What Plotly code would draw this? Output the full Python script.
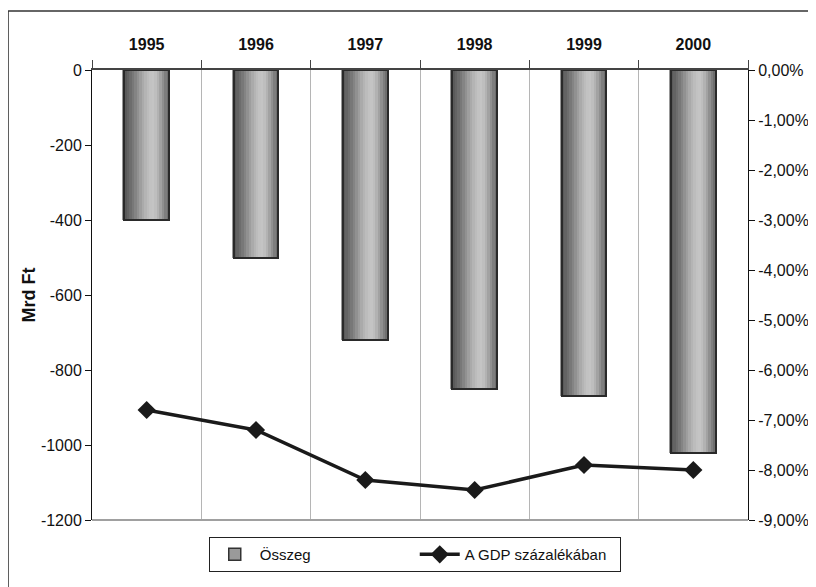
import plotly.graph_objects as go

years = ["1995", "1996", "1997", "1998", "1999", "2000"]
osszeg = [-400, -500, -720, -850, -870, -1020]
gdp_pct = [-0.068, -0.072, -0.082, -0.084, -0.079, -0.080]
left_ticks = [0, -200, -400, -600, -800, -1000, -1200]
left_labels = ["0", "-200", "-400", "-600", "-800", "-1000", "-1200"]
right_ticks = [0, -0.01, -0.02, -0.03, -0.04, -0.05, -0.06, -0.07, -0.08, -0.09]
right_labels = ["0,00%", "-1,00%", "-2,00%", "-3,00%", "-4,00%", "-5,00%",
                "-6,00%", "-7,00%", "-8,00%", "-9,00%"]

FONT = "Liberation Sans Narrow, Arial Narrow, Liberation Sans, Arial, sans-serif"
BAR_W = 0.41
grad = ["#5a5a5a", "#636363", "#6d6d6d", "#787878", "#848484", "#919191",
        "#9e9e9e", "#aaaaaa", "#b4b4b4", "#bcbcbc", "#c2c2c2", "#c4c4c4",
        "#bebebe", "#b2b2b2", "#a2a2a2", "#909090", "#7e7e7e", "#6e6e6e"]

fig = go.Figure()
fig.add_trace(go.Bar(x=years, y=osszeg, name="Összeg", width=BAR_W,
                     marker=dict(color="#9a9a9a", line=dict(color="#333333", width=1.5)),
                     yaxis="y"))
n = len(grad)
for i, c in enumerate(grad):
    fig.add_trace(go.Bar(x=years, y=osszeg, width=BAR_W / n, offset=-BAR_W / 2 + i * BAR_W / n,
                         marker=dict(color=c, line=dict(width=0)), showlegend=False,
                         hoverinfo="skip", yaxis="y"))
fig.add_trace(go.Bar(x=years, y=osszeg, width=BAR_W, showlegend=False, hoverinfo="skip",
                     marker=dict(color="rgba(0,0,0,0)", line=dict(color="#2a2a2a", width=2)),
                     yaxis="y"))
fig.add_trace(go.Scatter(x=years, y=gdp_pct, name="A GDP százalékában", mode="lines+markers",
                         line=dict(color="#1a1a1a", width=3.5),
                         marker=dict(symbol="diamond", size=14, color="#1a1a1a"),
                         yaxis="y2"))

fig.update_layout(
    width=808, height=579,
    margin=dict(l=84, r=68, t=62, b=67, autoexpand=False),
    paper_bgcolor="white", plot_bgcolor="white",
    barmode="overlay", bargap=0,
    font=dict(family=FONT, size=16, color="#111111"),
    showlegend=True,
    legend=dict(orientation="h", x=0.492, xanchor="center", y=-0.038, yanchor="top",
                bordercolor="#222222", borderwidth=1, bgcolor="white",
                font=dict(family=FONT, size=15, color="#111111"),
                entrywidth=150, itemwidth=40, traceorder="normal"),
    xaxis=dict(type="category", side="top", anchor="y", tickson="boundaries",
               showgrid=True, gridcolor="#b5b5b5", gridwidth=1, automargin=False,
               showline=True, linecolor="#444444", linewidth=2,
               ticks="outside", ticklen=8, tickcolor="#444444", ticklabelstandoff=12,
               tickfont=dict(family=FONT, size=16, color="#111111", weight="bold"),
               zeroline=False, range=[-0.5, 5.5]),
    yaxis=dict(range=[-1200, 0], tickvals=left_ticks, ticktext=left_labels,
               showgrid=False, zeroline=False, automargin=False,
               showline=True, linecolor="#111111", linewidth=1,
               ticks="outside", ticklen=6, tickcolor="#111111",
               tickfont=dict(family=FONT, size=16, color="#111111"),
               title=dict(text="Mrd Ft", font=dict(family=FONT, size=18, weight="bold"), standoff=0)),
    yaxis2=dict(range=[-0.09, 0], overlaying="y", side="right", tickvals=right_ticks,
                ticktext=right_labels, showgrid=False, zeroline=False, automargin=False,
                showline=True, linecolor="#111111", linewidth=1,
                ticks="outside", ticklen=6, tickcolor="#111111",
                tickfont=dict(family=FONT, size=16, color="#111111")),
    shapes=[
        dict(type="line", xref="paper", yref="paper", x0=0, x1=1, y0=0, y1=0,
             line=dict(color="#a0a0a0", width=2)),
        dict(type="line", xref="paper", yref="paper", x0=-0.128, x1=1.11, y0=1.131, y1=1.131,
             line=dict(color="#333333", width=1.5)),
        dict(type="line", xref="paper", yref="paper", x0=-0.128, x1=-0.128, y0=1.131, y1=-0.16,
             line=dict(color="#333333", width=1.5)),
    ],
)

fig.write_html("out.html")
